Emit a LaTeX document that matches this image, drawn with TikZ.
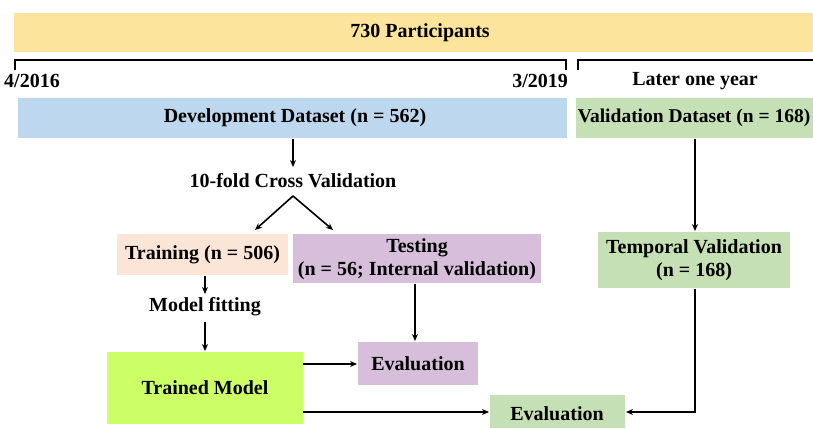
\documentclass[tikz,border=0pt]{standalone}
\usepackage{fontspec}
\setmainfont{Liberation Serif}
\usetikzlibrary{arrows.meta}
\definecolor{cyel}{HTML}{FCE49C}
\definecolor{cblue}{HTML}{BDD7EE}
\definecolor{cgreen}{HTML}{C5E0B4}
\definecolor{cpeach}{HTML}{FBE5D6}
\definecolor{cpurp}{HTML}{D7BFDB}
\definecolor{clime}{HTML}{CCFF66}
\tikzset{
  box/.style={draw=none, inner sep=0pt, font=\bfseries\fontsize{20}{23}\selectfont, align=center},
  lbl/.style={inner sep=0pt, font=\bfseries\fontsize{20}{23}\selectfont},
  arr/.style={-{Stealth[length=7pt,width=6pt]}, line width=1.6pt, black},
  brk/.style={line width=1.6pt, black},
}
\begin{document}
\begin{tikzpicture}[x=1pt,y=-1pt]
\useasboundingbox (0,0) rectangle (813,428);
% top bar
\fill[cyel] (14,13) rectangle (813,52);
\node[lbl] (part) at (420,33) {730 Participants};
% brackets
\draw[brk] (15,70) -- (15,60) -- (566,60) -- (566,70);
\draw[brk] (578,70) -- (578,60) -- (813,60);
\node[lbl, anchor=west] (d1) at (4,81) {4/2016};
\node[lbl, anchor=east] (d2) at (568,81) {3/2019};
\node[lbl] (later) at (695,81) {Later one year};
% boxes
\fill[cblue] (18,98) rectangle (567,138);
\node[lbl] (dev) at (295,118) {Development Dataset (n = 562)};
\coordinate (devb) at (293,139);
\fill[cgreen] (576,98) rectangle (813,138);
\node[lbl, font=\bfseries\fontsize{19.5}{23}\selectfont] (val) at (694,118) {Validation Dataset (n = 168)};
\coordinate (valb) at (695,139);

\node[lbl] (cv) at (293,181) {10-fold Cross Validation};
\coordinate (apex) at (293,196);

\fill[cpeach] (117,234) rectangle (288,275);
\node[lbl] (train) at (202.5,254.5) {Training (n = 506)};
\fill[cpurp] (293,234) rectangle (541,283);
\node[box] (test) at (417,259) {Testing\\(n = 56; Internal validation)};
\fill[cgreen] (598,232) rectangle (790,288);
\node[box] (temp) at (694,260) {Temporal Validation\\(n = 168)};

\node[lbl] (fit) at (205,307) {Model fitting};

\fill[clime] (107,352) rectangle (303,424);
\node[lbl] (model) at (205,388) {Trained Model};
\fill[cpurp] (358,342) rectangle (478,385);
\node[lbl] (ev1) at (418,364) {Evaluation};
\fill[cgreen] (490,395) rectangle (625,428);
\node[lbl] (ev2) at (557,414) {Evaluation};

% arrows
\draw[arr] (devb) -- (293,167);
\draw[arr] (apex) -- (255,230);
\draw[arr] (apex) -- (333,230);
\draw[arr] (valb) -- (695,231);
\draw[arr] (205,276) -- (205,294);
\draw[arr] (205,322) -- (205,351);
\draw[arr] (415,284) -- (415,341);
\draw[arr] (303,364) -- (357,364);
\draw[arr] (303,412) -- (489,412);
\draw[arr] (695,289) -- (695,412) -- (626,412);
\end{tikzpicture}
\end{document}
